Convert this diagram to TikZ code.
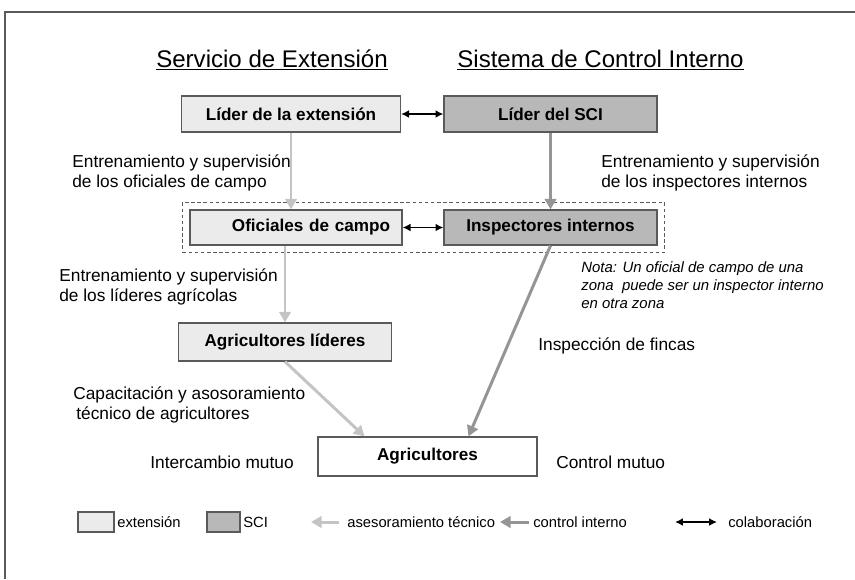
\documentclass[tikz,border=0pt]{standalone}
\usepackage{fontspec}
\setmainfont{Liberation Sans}
\usetikzlibrary{arrows.meta,positioning,fit}

\definecolor{extfill}{HTML}{EBEBEB}
\definecolor{scifill}{HTML}{B8B8B8}
\definecolor{extline}{HTML}{C4C4C4}
\definecolor{sciline}{HTML}{959595}
\definecolor{boxline}{HTML}{5A5A5A}

\begin{document}
\begin{tikzpicture}[x=0.02cm, y=-0.02cm,
  caja/.style={draw=boxline, line width=0.7pt, rectangle, minimum height=0.72cm, font=\fontsize{9.75}{11}\selectfont\bfseries},
  cajaext/.style={caja, fill=extfill},
  cajasci/.style={caja, fill=scifill},
  texto/.style={inner sep=0pt, anchor=west, align=left, font=\fontsize{9.85}{11.4}\selectfont},
  leyenda/.style={texto, font=\fontsize{8.4}{10}\selectfont},
  titulo/.style={inner sep=0pt, font=\fontsize{13.7}{16}\selectfont},
  flechaext/.style={draw=extline, line width=1.7pt, -{Triangle[length=6pt,width=6.5pt]}},
  flechasci/.style={draw=sciline, line width=1.7pt, -{Triangle[length=6pt,width=6.5pt]}},
  colab/.style={line width=1.1pt, {Latex[length=4.5pt,width=4.5pt]}-{Latex[length=4.5pt,width=4.5pt]}}]
\useasboundingbox (0,0) rectangle (855,579);
\draw[boxline, line width=0.9pt] (855,12) -| (5,579);

% titulos
\node[titulo, anchor=base] (tit1) at (272,67) {\underline{Servicio de Extensión}};
\node[titulo, anchor=base west] (tit2) at (457,67) {\underline{Sistema de Control Interno}};

% cajas
\node[cajaext, minimum width=4.38cm] (lidext) at (291,114) {Líder de la extensión};
\node[cajasci, minimum width=4.26cm] (lidsci) at (550.5,114) {Líder del SCI};
\node[cajaext, minimum width=4.24cm, minimum height=0.7cm, text width=3.76cm, align=right] (ofic) at (296,227.5) {Oficiales de campo};
\node[cajasci, minimum width=4.26cm, minimum height=0.7cm] (insp) at (550.5,227.5) {Inspectores internos};
\node[draw=boxline, dash pattern=on 2pt off 1.5pt, line width=0.6pt, inner sep=0.14cm, fit=(ofic)(insp)] (zona) {};
\node[cajaext, minimum width=4.26cm, minimum height=0.76cm] (lideres) at (285,342) {Agricultores líderes};
\node[caja, fill=white, minimum width=4.38cm, minimum height=0.78cm] (agric) at (427.5,456.5) {Agricultores};

% textos
\node[texto] (entr1) at (72,173) {Entrenamiento y supervisión\\de los oficiales de campo};
\node[texto] (entr2) at (601,173) {Entrenamiento y supervisión\\de los inspectores internos};
\node[texto] (entr3) at (59,286.5) {Entrenamiento y supervisión\\de los líderes agrícolas};
\node[texto, font=\fontsize{8.5}{10.2}\selectfont\itshape] (nota) at (581,285) {Nota: Un oficial de campo de una\\zona\ \ puede ser un inspector interno\\en otra zona};
\node[texto] (insfin) at (538,346) {Inspección de fincas};
\node[texto] (capac) at (73,405) {Capacitación y asosoramiento\\\hspace*{0.06cm}técnico de agricultores};
\node[texto] (intmut) at (150,462) {Intercambio mutuo};
\node[texto] (contmut) at (556,462) {Control mutuo};

% relaciones
\draw[colab] (lidext) -- (lidsci);
\draw[colab] (ofic) -- (insp);
\draw[flechaext] (lidext.south) -- (lidext.south |- ofic.north);
\draw[flechasci] (lidsci) -- (insp);
\draw[flechaext] (lideres.north |- ofic.south) -- (lideres.north);
\draw[flechaext] (lideres.south) -- ([xshift=-1.26cm]agric.north);
\draw[flechasci] (insp.south) -- ([xshift=0.82cm]agric.north);

% leyenda
\node[cajaext, minimum width=0.72cm, minimum height=0.4cm] (legext) at (96,522) {};
\node[leyenda] (txtext) at (117,522) {extensión};
\node[cajasci, minimum width=0.66cm, minimum height=0.4cm] (legsci) at (223.5,522) {};
\node[leyenda] (txtsci) at (243,522) {SCI};
\coordinate (leA1) at (339,522);
\coordinate (leA2) at (311,522);
\draw[flechaext] (leA1) -- (leA2);
\node[leyenda] (txtase) at (347,522) {asesoramiento técnico};
\coordinate (leB1) at (529,522);
\coordinate (leB2) at (500,522);
\draw[flechasci] (leB1) -- (leB2);
\node[leyenda] (txtcon) at (533,522) {control interno};
\coordinate (leC1) at (675,522);
\coordinate (leC2) at (717,522);
\draw[colab] (leC1) -- (leC2);
\node[leyenda] (txtcol) at (728,522) {colaboración};
\end{tikzpicture}
\end{document}
